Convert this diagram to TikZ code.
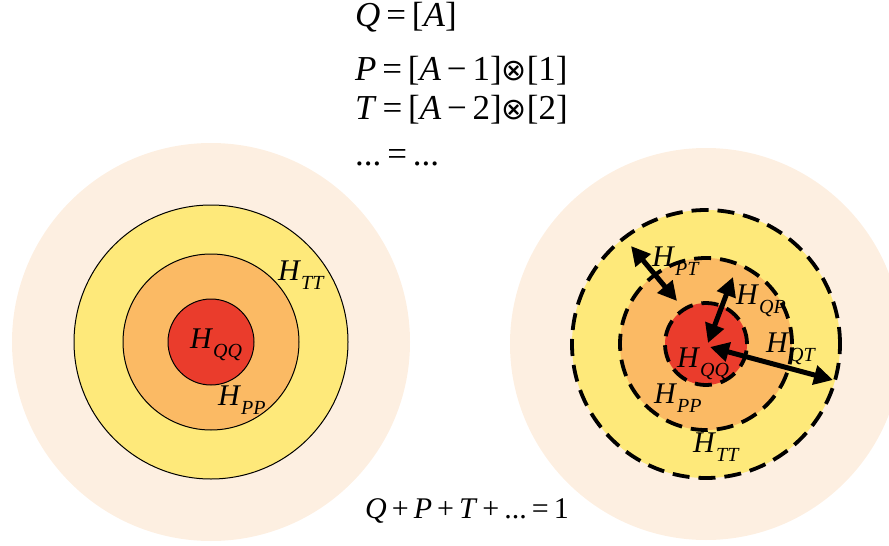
\documentclass[tikz,border=0pt]{standalone}
\usepackage{fontspec}
\setmainfont{Liberation Serif}
\newfontfamily\symfont{DejaVu Sans}
\usetikzlibrary{arrows.meta}

\definecolor{palebg}{RGB}{253,239,225}
\definecolor{ringyellow}{RGB}{254,233,122}
\definecolor{ringorange}{RGB}{251,186,100}
\definecolor{corered}{RGB}{234,60,44}

\newcommand{\Hlab}[1]{\textit{H}\raisebox{-9pt}{\fontsize{20}{21}\selectfont\textit{#1}}}
\newcommand{\otim}{{\symfont\fontsize{30}{30}\selectfont ⊗}}

\begin{document}
\begin{tikzpicture}[x=1pt, y=-1pt,
  ring/.style={draw=black, line width=1pt},
  dashring/.style={draw=black, line width=3.8pt, dash pattern=on 17pt off 9pt},
  biarrow/.style={line width=5pt, {Triangle[length=19pt,width=19pt]}-{Triangle[length=19pt,width=19pt]}},
  lab/.style={anchor=base west, inner sep=0pt, font=\fontsize{30}{30}\selectfont},
  eqn/.style={anchor=base west, inner sep=0pt, font=\fontsize{35}{36}\selectfont}]
  \useasboundingbox (0,0) rectangle (889,546);

  % Centres of the two targets
  \coordinate (lc) at (211,342);
  \coordinate (rc) at (706,344);

  % Left target, solid rings
  \fill[palebg] (lc) circle[radius=199pt];
  \filldraw[ring, fill=ringyellow] (lc) circle[radius=137pt];
  \filldraw[ring, fill=ringorange] (lc) circle[radius=88pt];
  \filldraw[ring, fill=corered] (lc) circle[radius=43pt];

  \node[lab] (lqq) at (190,348) {\Hlab{QQ}};
  \node[lab] (ltt) at (278,280) {\Hlab{TT}};
  \node[lab] (lpp) at (218,405) {\Hlab{PP}};

  % Right target, dashed rings
  \fill[palebg] (rc) circle[radius=196pt];
  \filldraw[dashring, fill=ringyellow] (rc) circle[radius=134pt];
  \filldraw[dashring, fill=ringorange] (rc) circle[radius=86pt];
  \filldraw[dashring, fill=corered] (rc) circle[radius=41pt];

  \node[lab] (rpt) at (652,266) {\Hlab{PT}};
  \node[lab] (rqp) at (736,304) {\Hlab{QP}};
  \node[lab] (rqt) at (766,352) {\Hlab{QT}};
  \node[lab] (rqq) at (677,367) {\Hlab{QQ}};
  \node[lab] (rpp) at (654,403) {\Hlab{PP}};
  \node[lab] (rtt) at (693,452) {\Hlab{TT}};

  % Interaction arrows
  \coordinate (ptout) at (631,246);
  \coordinate (ptin) at (677,301);
  \coordinate (qpout) at (733,277);
  \coordinate (qpin) at (708,343);
  \coordinate (qtin) at (710,347);
  \coordinate (qtout) at (833,380);
  \draw[biarrow] (ptout) -- (ptin);
  \draw[biarrow] (qpout) -- (qpin);
  \draw[biarrow] (qtin) -- (qtout);

  % Definitions
  \node[eqn] (eqq) at (355,27) {\textit{Q}\,=\,[\textit{A}]};
  \node[eqn] (eqp) at (355,80) {\textit{P}\,=\,[\textit{A}\,−\,1]\otim[1]};
  \node[eqn] (eqt) at (355,119) {\textit{T}\,=\,[\textit{A}\,−\,2]\otim[2]};
  \node[eqn] (edots) at (355,165) {...\,=\,...};

  % Normalisation
  \node[anchor=base west, inner sep=0pt, font=\fontsize{30}{30}\selectfont] (norm) at (365,518)
    {\textit{Q}\,+\,\textit{P}\,+\,\textit{T}\,+\,...\,=\,1};
\end{tikzpicture}
\end{document}
